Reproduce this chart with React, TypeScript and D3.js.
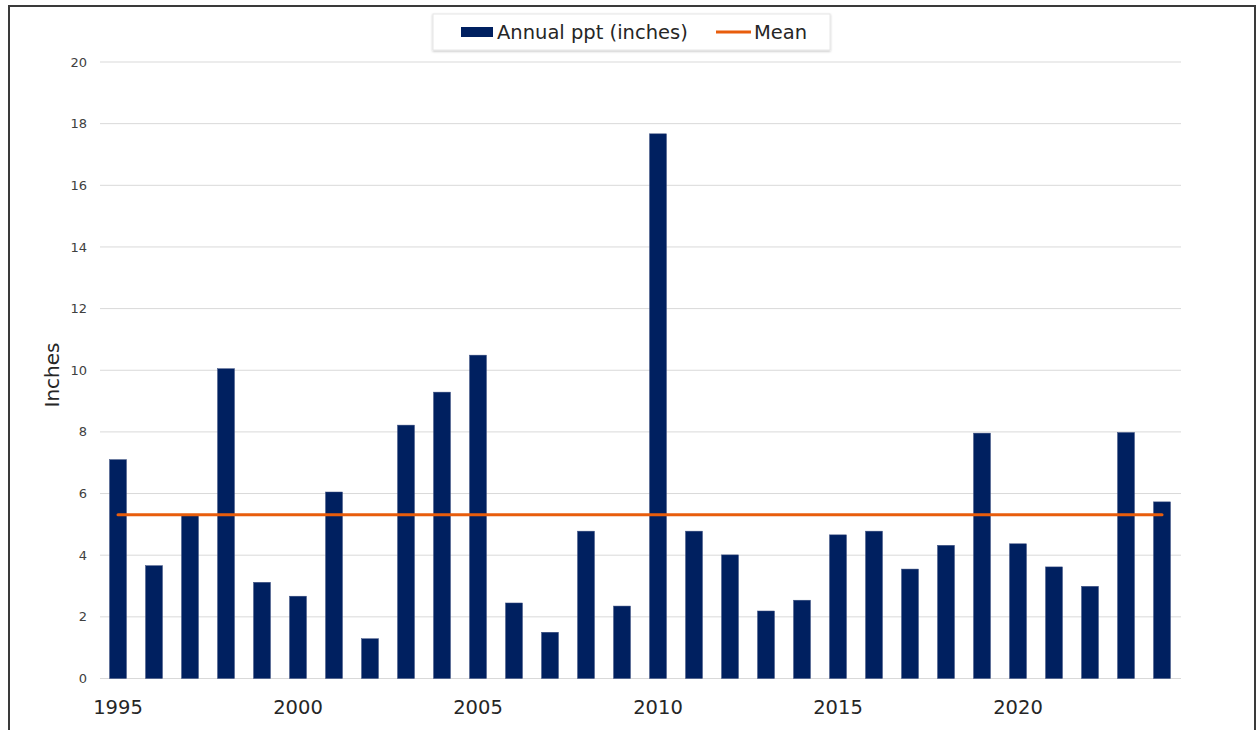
import React from "react";
import * as d3 from "d3";

const years: number[] = [
  1995, 1996, 1997, 1998, 1999, 2000, 2001, 2002, 2003, 2004,
  2005, 2006, 2007, 2008, 2009, 2010, 2011, 2012, 2013, 2014,
  2015, 2016, 2017, 2018, 2019, 2020, 2021, 2022, 2023, 2024,
];
const annualPpt: number[] = [
  7.10, 3.66, 5.29, 10.05, 3.12, 2.67, 6.05, 1.29, 8.22, 9.29,
  10.49, 2.45, 1.50, 4.78, 2.35, 17.67, 4.78, 4.01, 2.19, 2.54,
  4.66, 4.78, 3.55, 4.32, 7.96, 4.37, 3.62, 2.99, 7.98, 5.73,
];
const yTicks: number[] = [0, 2, 4, 6, 8, 10, 12, 14, 16, 18, 20];
const xLabelYears: number[] = [1995, 2000, 2005, 2010, 2015, 2020];
const seriesName = "Annual ppt (inches)";
const meanName = "Mean";
const yTitle = "Inches";

const W = 1257;
const H = 730;
const FONT = "'DejaVu Sans', sans-serif";
const BAR = "#002060";
const MEAN = "#E85D0C";

export default function App() {
  const x = d3
    .scaleBand<number>()
    .domain(years)
    .range([100, 1180])
    .paddingInner(0.53)
    .paddingOuter(0.265);
  const y = d3.scaleLinear().domain([0, 20]).range([678.5, 62]);
  const meanVal = d3.mean(annualPpt) as number;
  const bw = x.bandwidth();
  const cx = (yr: number) => (x(yr) as number) + bw / 2;

  return (
    <svg
      width={W}
      height={H}
      style={{ position: "absolute", left: 0, top: 0, background: "#fff" }}
      fontFamily={FONT}
    >
      <defs>
        <filter id="sh" x="-5%" y="-20%" width="110%" height="160%">
          <feDropShadow dx="0" dy="1" stdDeviation="1.2" floodColor="#000" floodOpacity="0.25" />
        </filter>
      </defs>
      {/* outer frame */}
      <rect x={9} y={6} width={1246} height={740} fill="#fff" stroke="#3a3a3a" strokeWidth={2} />

      {/* gridlines */}
      {yTicks.map((t) => (
        <line key={t} x1={100} x2={1181} y1={y(t)} y2={y(t)} stroke="#d9d9d9" strokeWidth={1} />
      ))}
      {/* y tick labels */}
      {yTicks.map((t) => (
        <text key={"l" + t} x={87} y={y(t)} dy="0.35em" textAnchor="end" fontSize={13} fill="#404040">
          {t}
        </text>
      ))}
      {/* y title */}
      <text
        transform={`translate(58.5,${375}) rotate(-90)`}
        textAnchor="middle"
        fontSize={20}
        fill="#262626"
      >
        {yTitle}
      </text>

      {/* bars */}
      {years.map((yr, i) => (
        <rect
          key={yr}
          x={x(yr)}
          y={y(annualPpt[i])}
          width={bw}
          height={y(0) - y(annualPpt[i])}
          fill={BAR}
          stroke="#3b4f80"
          strokeWidth={0.5}
        />
      ))}

      {/* mean line */}
      <line
        x1={cx(years[0])}
        x2={cx(years[years.length - 1])}
        y1={y(meanVal)}
        y2={y(meanVal)}
        stroke={MEAN}
        strokeWidth={3}
        strokeLinecap="round"
      />

      {/* x labels */}
      {xLabelYears.map((yr) => (
        <text key={yr} x={cx(yr)} y={713.5} textAnchor="middle" fontSize={19.5} fill="#262626">
          {yr}
        </text>
      ))}

      {/* legend */}
      <rect x={433} y={14} width={397} height={36} fill="#fff" stroke="#e6e6e6" strokeWidth={1} filter="url(#sh)" />
      <rect x={461} y={27} width={32} height={10} fill={BAR} />
      <text x={497} y={39} fontSize={19.5} fill="#262626">
        {seriesName}
      </text>
      <line x1={716} x2={751} y1={32} y2={32} stroke={MEAN} strokeWidth={3} />
      <text x={754} y={39} fontSize={19.5} fill="#262626">
        {meanName}
      </text>
    </svg>
  );
}
